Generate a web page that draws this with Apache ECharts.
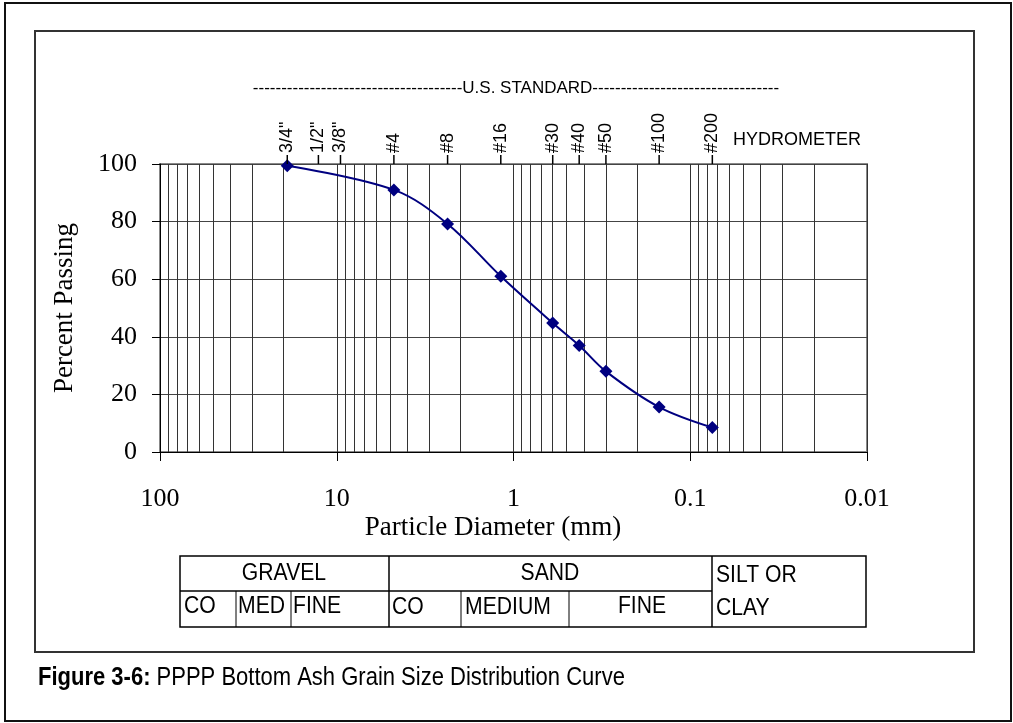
<!DOCTYPE html>
<html>
<head>
<meta charset="utf-8">
<script src="https://cdn.jsdelivr.net/npm/echarts@6/dist/echarts.min.js"></script>
<style>
html,body{margin:0;padding:0;background:#fff;}
#chart{width:1013px;height:723px;}
</style>
</head>
<body>
<div id="chart"></div>
<script>
// ---- data ----
const sieveNames = ['3/4"', '1/2"', '3/8"', '#4', '#8', '#16', '#30', '#40', '#50', '#100', '#200'];
const sieveSizes = [19.05, 12.7, 9.525, 4.75, 2.36, 1.18, 0.6, 0.425, 0.3, 0.15, 0.075];
const testSizes = [19.05, 4.75, 2.36, 1.18, 0.6, 0.425, 0.3, 0.15, 0.075];
const percentPassing = [99.4, 91, 79.2, 61, 44.8, 37, 28, 15.6, 8.5];
const xTickLabels = ['100', '10', '1', '0.1', '0.01'];
const decades = [10, 1, 0.1, 0.01];
const minorMultipliers = [2, 3, 4, 5, 6, 7, 8, 9];

const minorGrid = [];
decades.forEach(d => minorMultipliers.forEach(k => minorGrid.push(+(k * d).toPrecision(3))));

const chart = echarts.init(document.getElementById('chart'), null, {renderer: 'canvas'});
const serif = "'Liberation Serif', 'Times New Roman', serif";
const sans = "'Liberation Sans', Arial, sans-serif";
const navy = '#000080';

function tableText(x, y, text, align) {
  return {type: 'text', x: x, y: y, scaleX: 0.92,
    style: {text: text, font: "23px " + sans, align: align || 'left', verticalAlign: 'middle', fill: '#000'}};
}

const option = {
  animation: false,
  backgroundColor: '#fff',
  grid: {left: 160, top: 164, width: 707, height: 288, show: true, borderColor: '#888', borderWidth: 2},
  xAxis: {
    type: 'log', logBase: 10, min: 0.01, max: 100, inverse: true,
    name: 'Particle Diameter (mm)', nameLocation: 'middle', nameGap: 62,
    nameTextStyle: {fontFamily: serif, fontSize: 27, color: '#000', padding: [0, 41, 0, 0]},
    axisLine: {show: true, lineStyle: {color: '#000', width: 1}},
    axisTick: {show: true, inside: false, length: 9, lineStyle: {color: '#000'}},
    axisLabel: {
      fontFamily: serif, fontSize: 26, color: '#000', margin: 34,
      formatter: v => xTickLabels.find(t => Math.abs(Math.log10(+t) - Math.log10(v)) < 1e-6) || ''
    },
    splitLine: {show: true, lineStyle: {color: '#333', width: 1}},
    minorTick: {show: false}, minorSplitLine: {show: false}
  },
  yAxis: {
    type: 'value', min: 0, max: 100, interval: 20,
    name: 'Percent Passing', nameLocation: 'middle', nameGap: 82, nameRotate: 90,
    nameTextStyle: {fontFamily: serif, fontSize: 27, color: '#000'},
    axisLine: {show: true, lineStyle: {color: '#000', width: 1}},
    axisTick: {show: true, inside: false, length: 8, lineStyle: {color: '#000'}},
    axisLabel: {fontFamily: serif, fontSize: 26, color: '#000', margin: 23},
    splitLine: {show: true, lineStyle: {color: '#444', width: 1}}
  },
  series: [
    {
      name: 'grid', type: 'line', data: [], z: 1, silent: true,
      markLine: {
        silent: true, symbol: 'none', animation: false,
        label: {show: false},
        lineStyle: {color: '#333', width: 1, type: 'solid'},
        emphasis: {disabled: true},
        data: minorGrid.map(v => ({xAxis: v}))
      }
    },
    {
      name: 'Percent Passing', type: 'line', z: 5,
      data: testSizes.map((s, i) => [s, percentPassing[i]]),
      smooth: 0.35,
      symbol: 'diamond', symbolSize: 13,
      lineStyle: {color: navy, width: 2},
      itemStyle: {color: navy},
      emphasis: {disabled: true}
    },
    {
      name: 'sieves', type: 'custom', z: 6, clip: false, silent: true,
      data: sieveSizes.map((s, i) => [s, 100, sieveNames[i]]),
      renderItem: function (params, api) {
        const p = api.coord([api.value(0), 100]);
        const label = sieveNames[params.dataIndex];
        return {
          type: 'group',
          children: [
            {type: 'line', shape: {x1: p[0], y1: p[1], x2: p[0], y2: p[1] - 9},
              style: {stroke: '#000', lineWidth: 1.5}},
            {type: 'text', x: p[0], y: p[1] - 11, rotation: Math.PI / 2,
              style: {text: label, font: "18px 'Liberation Sans', Arial, sans-serif",
                align: 'left', verticalAlign: 'middle', fill: '#000'}}
          ]
        };
      }
    }
  ],
  graphic: [
    {type: 'rect', shape: {x: 5, y: 3, width: 1006, height: 718}, style: {fill: 'none', stroke: '#111', lineWidth: 2}, z: 0, silent: true},
    {type: 'rect', shape: {x: 35, y: 31, width: 939, height: 621}, style: {fill: 'none', stroke: '#333', lineWidth: 2}, z: 0, silent: true},
    {type: 'text', x: 516, y: 88, style: {text: '-------------------------------------U.S. STANDARD---------------------------------', font: "17px " + sans, align: 'center', verticalAlign: 'middle', fill: '#000'}},
    {type: 'text', x: 733, y: 140, style: {text: 'HYDROMETER', font: "18px " + sans, align: 'left', verticalAlign: 'middle', fill: '#000'}},
    // classification table
    {type: 'rect', shape: {x: 180, y: 556, width: 686, height: 71}, style: {fill: 'none', stroke: '#000', lineWidth: 1.5}},
    {type: 'line', shape: {x1: 180, y1: 591, x2: 712, y2: 591}, style: {stroke: '#000', lineWidth: 1.5}},
    {type: 'line', shape: {x1: 389, y1: 556, x2: 389, y2: 627}, style: {stroke: '#000', lineWidth: 1.5}},
    {type: 'line', shape: {x1: 712, y1: 556, x2: 712, y2: 627}, style: {stroke: '#000', lineWidth: 1.5}},
    {type: 'line', shape: {x1: 236, y1: 591, x2: 236, y2: 627}, style: {stroke: '#000', lineWidth: 1}},
    {type: 'line', shape: {x1: 291, y1: 591, x2: 291, y2: 627}, style: {stroke: '#000', lineWidth: 1}},
    {type: 'line', shape: {x1: 461, y1: 591, x2: 461, y2: 627}, style: {stroke: '#000', lineWidth: 1}},
    {type: 'line', shape: {x1: 569, y1: 591, x2: 569, y2: 627}, style: {stroke: '#000', lineWidth: 1}},
    tableText(284, 574, 'GRAVEL', 'center'),
    tableText(550, 574, 'SAND', 'center'),
    tableText(716, 576, 'SILT OR'),
    tableText(716, 609, 'CLAY'),
    tableText(184, 607, 'CO'),
    tableText(238, 607, 'MED'),
    tableText(293, 607, 'FINE'),
    tableText(392, 608, 'CO'),
    tableText(465, 608, 'MEDIUM'),
    tableText(642, 607, 'FINE', 'center'),
    // caption
    {type: 'text', x: 38, y: 678, scaleX: 0.88, style: {
      text: '{b|Figure 3-6:} PPPP Bottom Ash Grain Size Distribution Curve',
      font: "25px " + sans, align: 'left', verticalAlign: 'middle', fill: '#000',
      rich: {b: {fontWeight: 'bold', fontSize: 25, fontFamily: sans}}
    }}
  ]
};
chart.setOption(option);
</script>
</body>
</html>
